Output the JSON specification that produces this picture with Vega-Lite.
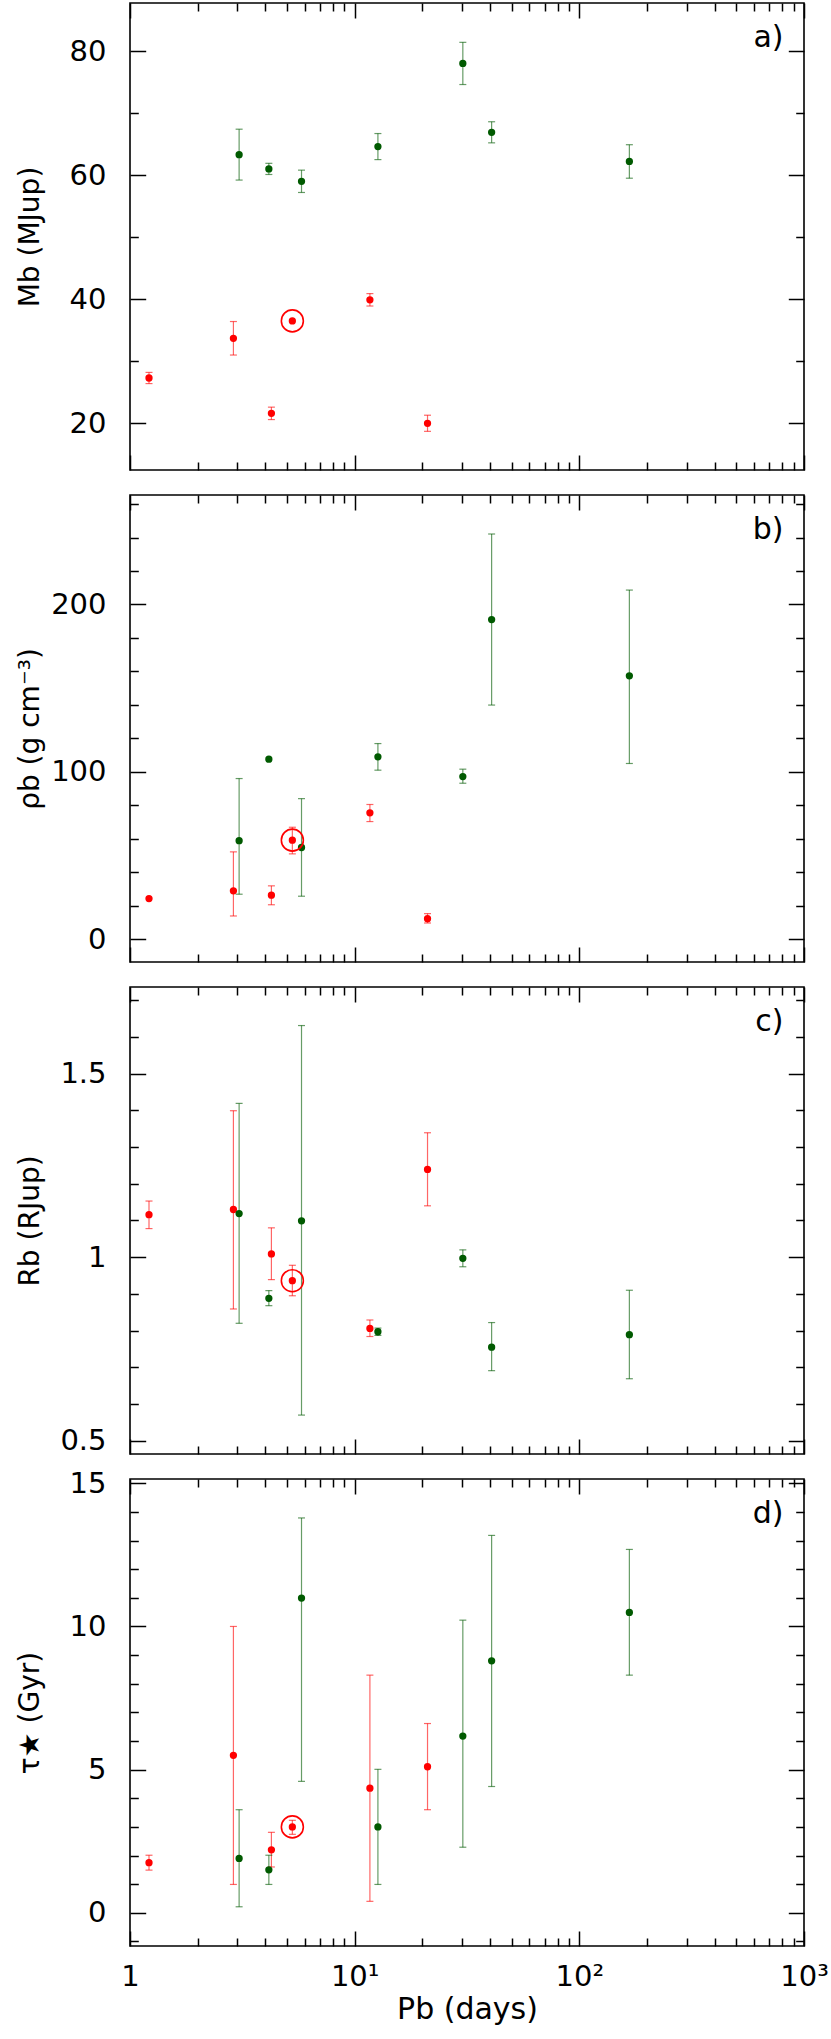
{
  "$schema": "https://vega.github.io/schema/vega-lite/v6.json",
  "padding": {"left": 15, "top": 1, "right": 0, "bottom": 0},
  "spacing": 25,
  "bounds": "flush",
  "config": {
    "view": {"stroke": "black", "strokeWidth": 1.6},
    "axis": {"domain": false, "grid": false, "tickColor": "black", "tickWidth": 1.5, "labelFont": "DejaVu Sans", "labelFontSize": 29, "labelColor": "black", "titleFont": "DejaVu Sans", "titleFontSize": 28, "titleFontWeight": "normal", "titleColor": "black", "labelPadding": 24}
  },
  "data": {"values": [
    {"panel": "a", "grp": "red", "P": 1.215, "v": 27.3, "lo": 26.4, "hi": 28.2, "sun": false},
    {"panel": "a", "grp": "red", "P": 2.886, "v": 33.7, "lo": 31.0, "hi": 36.4, "sun": false},
    {"panel": "a", "grp": "red", "P": 4.26, "v": 21.6, "lo": 20.6, "hi": 22.6, "sun": false},
    {"panel": "a", "grp": "red", "P": 5.28, "v": 36.5, "lo": null, "hi": null, "sun": true},
    {"panel": "a", "grp": "red", "P": 11.69, "v": 39.9, "lo": 38.9, "hi": 40.9, "sun": false},
    {"panel": "a", "grp": "red", "P": 21.1, "v": 20.0, "lo": 18.7, "hi": 21.3, "sun": false},
    {"panel": "a", "grp": "green", "P": 3.06, "v": 63.3, "lo": 59.2, "hi": 67.4, "sun": false},
    {"panel": "a", "grp": "green", "P": 4.15, "v": 61.0, "lo": 60.1, "hi": 61.9, "sun": false},
    {"panel": "a", "grp": "green", "P": 5.80, "v": 59.0, "lo": 57.2, "hi": 60.8, "sun": false},
    {"panel": "a", "grp": "green", "P": 12.69, "v": 64.6, "lo": 62.5, "hi": 66.7, "sun": false},
    {"panel": "a", "grp": "green", "P": 30.3, "v": 78.0, "lo": 74.6, "hi": 81.4, "sun": false},
    {"panel": "a", "grp": "green", "P": 40.7, "v": 66.9, "lo": 65.2, "hi": 68.6, "sun": false},
    {"panel": "a", "grp": "green", "P": 167, "v": 62.2, "lo": 59.5, "hi": 64.9, "sun": false},

    {"panel": "b", "grp": "red", "P": 1.215, "v": 24.3, "lo": null, "hi": null, "sun": false},
    {"panel": "b", "grp": "red", "P": 2.886, "v": 28.9, "lo": 13.9, "hi": 52.2, "sun": false},
    {"panel": "b", "grp": "red", "P": 4.26, "v": 26.3, "lo": 20.6, "hi": 31.9, "sun": false},
    {"panel": "b", "grp": "red", "P": 5.28, "v": 59.2, "lo": 51.0, "hi": 66.9, "sun": true},
    {"panel": "b", "grp": "red", "P": 11.69, "v": 75.5, "lo": 70.3, "hi": 80.5, "sun": false},
    {"panel": "b", "grp": "red", "P": 21.1, "v": 12.3, "lo": 9.7, "hi": 15.3, "sun": false},
    {"panel": "b", "grp": "green", "P": 3.06, "v": 58.9, "lo": 26.9, "hi": 96.0, "sun": false},
    {"panel": "b", "grp": "green", "P": 4.15, "v": 107.6, "lo": null, "hi": null, "sun": false},
    {"panel": "b", "grp": "green", "P": 5.80, "v": 54.8, "lo": 25.7, "hi": 84.0, "sun": false},
    {"panel": "b", "grp": "green", "P": 12.69, "v": 109.0, "lo": 101.0, "hi": 116.9, "sun": false},
    {"panel": "b", "grp": "green", "P": 30.3, "v": 97.2, "lo": 93.2, "hi": 101.6, "sun": false},
    {"panel": "b", "grp": "green", "P": 40.7, "v": 191.0, "lo": 139.9, "hi": 242.1, "sun": false},
    {"panel": "b", "grp": "green", "P": 167, "v": 157.4, "lo": 105.0, "hi": 208.6, "sun": false},

    {"panel": "c", "grp": "red", "P": 1.215, "v": 1.116, "lo": 1.078, "hi": 1.153, "sun": false},
    {"panel": "c", "grp": "red", "P": 2.886, "v": 1.130, "lo": 0.859, "hi": 1.399, "sun": false},
    {"panel": "c", "grp": "red", "P": 4.26, "v": 1.009, "lo": 0.939, "hi": 1.080, "sun": false},
    {"panel": "c", "grp": "red", "P": 5.28, "v": 0.936, "lo": 0.895, "hi": 0.978, "sun": true},
    {"panel": "c", "grp": "red", "P": 11.69, "v": 0.806, "lo": 0.784, "hi": 0.829, "sun": false},
    {"panel": "c", "grp": "red", "P": 21.1, "v": 1.239, "lo": 1.140, "hi": 1.339, "sun": false},
    {"panel": "c", "grp": "green", "P": 3.06, "v": 1.119, "lo": 0.820, "hi": 1.419, "sun": false},
    {"panel": "c", "grp": "green", "P": 4.15, "v": 0.888, "lo": 0.868, "hi": 0.909, "sun": false},
    {"panel": "c", "grp": "green", "P": 5.80, "v": 1.099, "lo": 0.570, "hi": 1.631, "sun": false},
    {"panel": "c", "grp": "green", "P": 12.69, "v": 0.797, "lo": 0.787, "hi": 0.807, "sun": false},
    {"panel": "c", "grp": "green", "P": 30.3, "v": 0.997, "lo": 0.974, "hi": 1.020, "sun": false},
    {"panel": "c", "grp": "green", "P": 40.7, "v": 0.755, "lo": 0.691, "hi": 0.822, "sun": false},
    {"panel": "c", "grp": "green", "P": 167, "v": 0.789, "lo": 0.669, "hi": 0.910, "sun": false},

    {"panel": "d", "grp": "red", "P": 1.215, "v": 1.75, "lo": 1.49, "hi": 2.01, "sun": false},
    {"panel": "d", "grp": "red", "P": 2.886, "v": 5.50, "lo": 0.99, "hi": 10.0, "sun": false},
    {"panel": "d", "grp": "red", "P": 4.26, "v": 2.20, "lo": 1.60, "hi": 2.81, "sun": false},
    {"panel": "d", "grp": "red", "P": 5.28, "v": 3.0, "lo": 2.74, "hi": 3.23, "sun": true},
    {"panel": "d", "grp": "red", "P": 11.69, "v": 4.35, "lo": 0.40, "hi": 8.30, "sun": false},
    {"panel": "d", "grp": "red", "P": 21.1, "v": 5.10, "lo": 3.60, "hi": 6.61, "sun": false},
    {"panel": "d", "grp": "green", "P": 3.06, "v": 1.90, "lo": 0.21, "hi": 3.60, "sun": false},
    {"panel": "d", "grp": "green", "P": 4.15, "v": 1.50, "lo": 0.99, "hi": 2.01, "sun": false},
    {"panel": "d", "grp": "green", "P": 5.80, "v": 10.99, "lo": 4.59, "hi": 13.79, "sun": false},
    {"panel": "d", "grp": "green", "P": 12.69, "v": 3.0, "lo": 0.99, "hi": 5.01, "sun": false},
    {"panel": "d", "grp": "green", "P": 30.3, "v": 6.17, "lo": 2.29, "hi": 10.22, "sun": false},
    {"panel": "d", "grp": "green", "P": 40.7, "v": 8.80, "lo": 4.41, "hi": 13.18, "sun": false},
    {"panel": "d", "grp": "green", "P": 167, "v": 10.49, "lo": 8.30, "hi": 12.69, "sun": false}
  ]},
  "vconcat": [
    {
      "width": 674, "height": 467,
      "transform": [{"filter": "datum.panel == 'a'"}],
      "layer": [
        {"transform": [{"filter": "datum.lo != null"}], "mark": {"type": "rule", "strokeWidth": 1.2, "opacity": 0.6},
         "encoding": {
           "x": {"field": "P", "type": "quantitative", "scale": {"type": "log", "domain": [1, 1000], "nice": false}, "axis": {"orient": "bottom", "values": [1, 10, 100, 1000], "offset": -15, "tickSize": 15, "labels": false, "title": null}},
           "y": {"field": "lo", "type": "quantitative", "scale": {"domain": [12.47, 87.74], "nice": false, "zero": false}, "axis": {"orient": "left", "values": [20, 40, 60, 80], "offset": -15.7, "tickSize": 15.7, "title": "Mb (MJup)", "titleX": -101.7}},
           "y2": {"field": "hi"},
           "color": {"field": "grp", "type": "nominal", "scale": {"domain": ["red", "green"], "range": ["#ff0000", "#005a00"]}, "legend": null}}},
        {"transform": [{"filter": "datum.lo != null"}], "mark": {"type": "tick", "orient": "horizontal", "size": 7, "thickness": 1.2, "opacity": 0.6},
         "encoding": {
           "x": {"field": "P", "type": "quantitative", "axis": {"orient": "bottom", "values": [2,3,4,5,6,7,8,9,20,30,40,50,60,70,80,90,200,300,400,500,600,700,800,900], "offset": -8, "tickSize": 8, "labels": false, "title": null}},
           "y": {"field": "lo", "type": "quantitative", "axis": {"orient": "left", "values": [30, 50, 70], "offset": -8.3, "tickSize": 8.3, "labels": false, "title": null}},
           "color": {"field": "grp", "type": "nominal", "legend": null}}},
        {"transform": [{"filter": "datum.lo != null"}], "mark": {"type": "tick", "orient": "horizontal", "size": 7, "thickness": 1.2, "opacity": 0.6},
         "encoding": {
           "x": {"field": "P", "type": "quantitative", "axis": {"orient": "top", "values": [1, 10, 100, 1000], "offset": -15, "tickSize": 15, "labels": false, "title": "a)", "titleX": 653, "titleY": 28, "titleAlign": "right", "titleBaseline": "alphabetic", "titleAngle": 0, "titleFontSize": 30}},
           "y": {"field": "hi", "type": "quantitative", "axis": {"orient": "right", "values": [20, 40, 60, 80], "offset": -15.7, "tickSize": 15.7, "labels": false, "title": null}},
           "color": {"field": "grp", "type": "nominal", "legend": null}}},
        {"mark": {"type": "point", "shape": "circle", "filled": true, "size": 53, "opacity": 1},
         "encoding": {
           "x": {"field": "P", "type": "quantitative", "axis": {"orient": "top", "values": [2,3,4,5,6,7,8,9,20,30,40,50,60,70,80,90,200,300,400,500,600,700,800,900], "offset": -8, "tickSize": 8, "labels": false, "title": null}},
           "y": {"field": "v", "type": "quantitative", "axis": {"orient": "right", "values": [30, 50, 70], "offset": -8.3, "tickSize": 8.3, "labels": false, "title": null}},
           "color": {"field": "grp", "type": "nominal", "legend": null}}},
        {"transform": [{"filter": "datum.sun"}], "mark": {"type": "point", "shape": "circle", "filled": false, "size": 484, "stroke": "#ff0000", "strokeWidth": 1.6, "opacity": 1},
         "encoding": {
           "x": {"field": "P", "type": "quantitative", "axis": null},
           "y": {"field": "v", "type": "quantitative", "axis": null}}}
      ],
      "resolve": {"axis": {"x": "independent", "y": "independent"}}
    },
    {
      "width": 674, "height": 467,
      "transform": [{"filter": "datum.panel == 'b'"}],
      "layer": [
        {"transform": [{"filter": "datum.lo != null"}], "mark": {"type": "rule", "strokeWidth": 1.2, "opacity": 0.6},
         "encoding": {
           "x": {"field": "P", "type": "quantitative", "scale": {"type": "log", "domain": [1, 1000], "nice": false}, "axis": {"orient": "bottom", "values": [1, 10, 100, 1000], "offset": -15, "tickSize": 15, "labels": false, "title": null}},
           "y": {"field": "lo", "type": "quantitative", "scale": {"domain": [-13.6, 265.4], "nice": false, "zero": false}, "axis": {"orient": "left", "values": [0, 100, 200], "offset": -15.7, "tickSize": 15.7, "title": "ρb (g cm⁻³)", "titleX": -101.7}},
           "y2": {"field": "hi"},
           "color": {"field": "grp", "type": "nominal", "scale": {"domain": ["red", "green"], "range": ["#ff0000", "#005a00"]}, "legend": null}}},
        {"transform": [{"filter": "datum.lo != null"}], "mark": {"type": "tick", "orient": "horizontal", "size": 7, "thickness": 1.2, "opacity": 0.6},
         "encoding": {
           "x": {"field": "P", "type": "quantitative", "axis": {"orient": "bottom", "values": [2,3,4,5,6,7,8,9,20,30,40,50,60,70,80,90,200,300,400,500,600,700,800,900], "offset": -8, "tickSize": 8, "labels": false, "title": null}},
           "y": {"field": "lo", "type": "quantitative", "axis": {"orient": "left", "values": [20,40,60,80,120,140,160,180,220,240,260], "offset": -8.3, "tickSize": 8.3, "labels": false, "title": null}},
           "color": {"field": "grp", "type": "nominal", "legend": null}}},
        {"transform": [{"filter": "datum.lo != null"}], "mark": {"type": "tick", "orient": "horizontal", "size": 7, "thickness": 1.2, "opacity": 0.6},
         "encoding": {
           "x": {"field": "P", "type": "quantitative", "axis": {"orient": "top", "values": [1, 10, 100, 1000], "offset": -15, "tickSize": 15, "labels": false, "title": "b)", "titleX": 653, "titleY": 28, "titleAlign": "right", "titleBaseline": "alphabetic", "titleAngle": 0, "titleFontSize": 30}},
           "y": {"field": "hi", "type": "quantitative", "axis": {"orient": "right", "values": [0, 100, 200], "offset": -15.7, "tickSize": 15.7, "labels": false, "title": null}},
           "color": {"field": "grp", "type": "nominal", "legend": null}}},
        {"mark": {"type": "point", "shape": "circle", "filled": true, "size": 53, "opacity": 1},
         "encoding": {
           "x": {"field": "P", "type": "quantitative", "axis": {"orient": "top", "values": [2,3,4,5,6,7,8,9,20,30,40,50,60,70,80,90,200,300,400,500,600,700,800,900], "offset": -8, "tickSize": 8, "labels": false, "title": null}},
           "y": {"field": "v", "type": "quantitative", "axis": {"orient": "right", "values": [20,40,60,80,120,140,160,180,220,240,260], "offset": -8.3, "tickSize": 8.3, "labels": false, "title": null}},
           "color": {"field": "grp", "type": "nominal", "legend": null}}},
        {"transform": [{"filter": "datum.sun"}], "mark": {"type": "point", "shape": "circle", "filled": false, "size": 484, "stroke": "#ff0000", "strokeWidth": 1.6, "opacity": 1},
         "encoding": {
           "x": {"field": "P", "type": "quantitative", "axis": null},
           "y": {"field": "v", "type": "quantitative", "axis": null}}}
      ],
      "resolve": {"axis": {"x": "independent", "y": "independent"}}
    },
    {
      "width": 674, "height": 467,
      "transform": [{"filter": "datum.panel == 'c'"}],
      "layer": [
        {"transform": [{"filter": "datum.lo != null"}], "mark": {"type": "rule", "strokeWidth": 1.2, "opacity": 0.6},
         "encoding": {
           "x": {"field": "P", "type": "quantitative", "scale": {"type": "log", "domain": [1, 1000], "nice": false}, "axis": {"orient": "bottom", "values": [1, 10, 100, 1000], "offset": -15, "tickSize": 15, "labels": false, "title": null}},
           "y": {"field": "lo", "type": "quantitative", "scale": {"domain": [0.464, 1.736], "nice": false, "zero": false}, "axis": {"orient": "left", "values": [0.5, 1, 1.5], "format": "~g", "offset": -15.7, "tickSize": 15.7, "title": "Rb (RJup)", "titleX": -101.7}},
           "y2": {"field": "hi"},
           "color": {"field": "grp", "type": "nominal", "scale": {"domain": ["red", "green"], "range": ["#ff0000", "#005a00"]}, "legend": null}}},
        {"transform": [{"filter": "datum.lo != null"}], "mark": {"type": "tick", "orient": "horizontal", "size": 7, "thickness": 1.2, "opacity": 0.6},
         "encoding": {
           "x": {"field": "P", "type": "quantitative", "axis": {"orient": "bottom", "values": [2,3,4,5,6,7,8,9,20,30,40,50,60,70,80,90,200,300,400,500,600,700,800,900], "offset": -8, "tickSize": 8, "labels": false, "title": null}},
           "y": {"field": "lo", "type": "quantitative", "axis": {"orient": "left", "values": [0.6,0.7,0.8,0.9,1.1,1.2,1.3,1.4,1.6,1.7], "offset": -8.3, "tickSize": 8.3, "labels": false, "title": null}},
           "color": {"field": "grp", "type": "nominal", "legend": null}}},
        {"transform": [{"filter": "datum.lo != null"}], "mark": {"type": "tick", "orient": "horizontal", "size": 7, "thickness": 1.2, "opacity": 0.6},
         "encoding": {
           "x": {"field": "P", "type": "quantitative", "axis": {"orient": "top", "values": [1, 10, 100, 1000], "offset": -15, "tickSize": 15, "labels": false, "title": "c)", "titleX": 653, "titleY": 28, "titleAlign": "right", "titleBaseline": "alphabetic", "titleAngle": 0, "titleFontSize": 30}},
           "y": {"field": "hi", "type": "quantitative", "axis": {"orient": "right", "values": [0.5, 1, 1.5], "offset": -15.7, "tickSize": 15.7, "labels": false, "title": null}},
           "color": {"field": "grp", "type": "nominal", "legend": null}}},
        {"mark": {"type": "point", "shape": "circle", "filled": true, "size": 53, "opacity": 1},
         "encoding": {
           "x": {"field": "P", "type": "quantitative", "axis": {"orient": "top", "values": [2,3,4,5,6,7,8,9,20,30,40,50,60,70,80,90,200,300,400,500,600,700,800,900], "offset": -8, "tickSize": 8, "labels": false, "title": null}},
           "y": {"field": "v", "type": "quantitative", "axis": {"orient": "right", "values": [0.6,0.7,0.8,0.9,1.1,1.2,1.3,1.4,1.6,1.7], "offset": -8.3, "tickSize": 8.3, "labels": false, "title": null}},
           "color": {"field": "grp", "type": "nominal", "legend": null}}},
        {"transform": [{"filter": "datum.sun"}], "mark": {"type": "point", "shape": "circle", "filled": false, "size": 484, "stroke": "#ff0000", "strokeWidth": 1.6, "opacity": 1},
         "encoding": {
           "x": {"field": "P", "type": "quantitative", "axis": null},
           "y": {"field": "v", "type": "quantitative", "axis": null}}}
      ],
      "resolve": {"axis": {"x": "independent", "y": "independent"}}
    },
    {
      "width": 674, "height": 467,
      "transform": [{"filter": "datum.panel == 'd'"}],
      "layer": [
        {"transform": [{"filter": "datum.lo != null"}], "mark": {"type": "rule", "strokeWidth": 1.2, "opacity": 0.6},
         "encoding": {
           "x": {"field": "P", "type": "quantitative", "scale": {"type": "log", "domain": [1, 1000], "nice": false}, "axis": {"orient": "bottom", "values": [1, 10, 100, 1000], "offset": -15, "tickSize": 15, "labelExpr": "datum.value == 1 ? '1' : datum.value == 10 ? '10¹' : datum.value == 100 ? '10²' : '10³'", "labelPadding": 16, "labelFlush": false, "title": "Pb (days)", "titleY": 87, "titleBaseline": "alphabetic", "titleFontSize": 30}},
           "y": {"field": "lo", "type": "quantitative", "scale": {"domain": [-1.16, 15.15], "nice": false, "zero": false}, "axis": {"orient": "left", "values": [0, 5, 10, 15], "offset": -15.7, "tickSize": 15.7, "title": "τ★ (Gyr)", "titleX": -101.7}},
           "y2": {"field": "hi"},
           "color": {"field": "grp", "type": "nominal", "scale": {"domain": ["red", "green"], "range": ["#ff0000", "#005a00"]}, "legend": null}}},
        {"transform": [{"filter": "datum.lo != null"}], "mark": {"type": "tick", "orient": "horizontal", "size": 7, "thickness": 1.2, "opacity": 0.6},
         "encoding": {
           "x": {"field": "P", "type": "quantitative", "axis": {"orient": "bottom", "values": [2,3,4,5,6,7,8,9,20,30,40,50,60,70,80,90,200,300,400,500,600,700,800,900], "offset": -8, "tickSize": 8, "labels": false, "title": null}},
           "y": {"field": "lo", "type": "quantitative", "axis": {"orient": "left", "values": [-1,1,2,3,4,6,7,8,9,11,12,13,14], "offset": -8.3, "tickSize": 8.3, "labels": false, "title": null}},
           "color": {"field": "grp", "type": "nominal", "legend": null}}},
        {"transform": [{"filter": "datum.lo != null"}], "mark": {"type": "tick", "orient": "horizontal", "size": 7, "thickness": 1.2, "opacity": 0.6},
         "encoding": {
           "x": {"field": "P", "type": "quantitative", "axis": {"orient": "top", "values": [1, 10, 100, 1000], "offset": -15, "tickSize": 15, "labels": false, "title": "d)", "titleX": 653, "titleY": 28, "titleAlign": "right", "titleBaseline": "alphabetic", "titleAngle": 0, "titleFontSize": 30}},
           "y": {"field": "hi", "type": "quantitative", "axis": {"orient": "right", "values": [0, 5, 10, 15], "offset": -15.7, "tickSize": 15.7, "labels": false, "title": null}},
           "color": {"field": "grp", "type": "nominal", "legend": null}}},
        {"mark": {"type": "point", "shape": "circle", "filled": true, "size": 53, "opacity": 1},
         "encoding": {
           "x": {"field": "P", "type": "quantitative", "axis": {"orient": "top", "values": [2,3,4,5,6,7,8,9,20,30,40,50,60,70,80,90,200,300,400,500,600,700,800,900], "offset": -8, "tickSize": 8, "labels": false, "title": null}},
           "y": {"field": "v", "type": "quantitative", "axis": {"orient": "right", "values": [-1,1,2,3,4,6,7,8,9,11,12,13,14], "offset": -8.3, "tickSize": 8.3, "labels": false, "title": null}},
           "color": {"field": "grp", "type": "nominal", "legend": null}}},
        {"transform": [{"filter": "datum.sun"}], "mark": {"type": "point", "shape": "circle", "filled": false, "size": 484, "stroke": "#ff0000", "strokeWidth": 1.6, "opacity": 1},
         "encoding": {
           "x": {"field": "P", "type": "quantitative", "axis": null},
           "y": {"field": "v", "type": "quantitative", "axis": null}}}
      ],
      "resolve": {"axis": {"x": "independent", "y": "independent"}}
    }
  ]
}
